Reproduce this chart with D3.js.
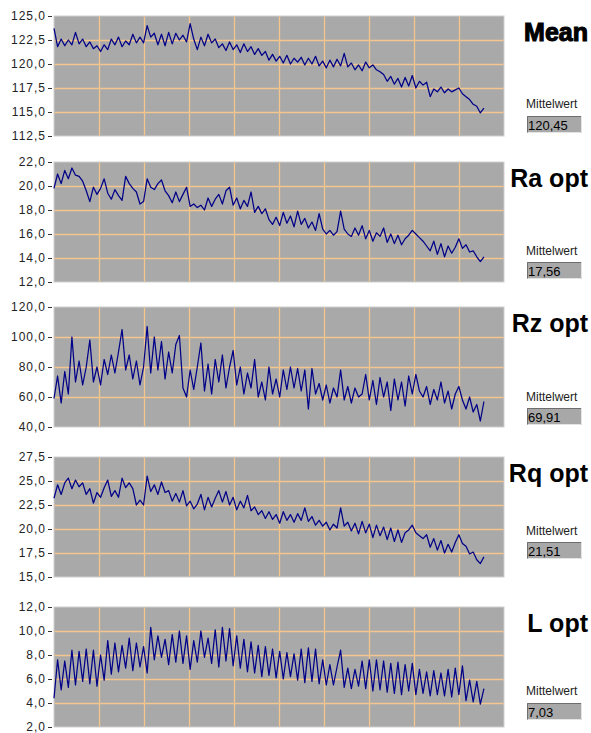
<!DOCTYPE html>
<html>
<head>
<meta charset="utf-8">
<script src="https://cdn.jsdelivr.net/npm/d3@7/dist/d3.min.js"></script>
<style>
  body { margin: 0; background: #fff; }
  svg { display: block; font-family: "Liberation Sans", Arial, sans-serif; }
</style>
</head>
<body>
<script>
// panel names, mean values and y axes
const titles = ['Mean', 'Ra opt', 'Rz opt', 'Rq opt', 'L opt']
const meanValues = [120.45, 17.56, 69.91, 21.51, 7.03]
const yDomains = [[112.5, 125], [12, 22], [40, 120], [15, 27.5], [2, 12]]
const yTicks = [
  [112.5, 115, 117.5, 120, 122.5, 125],
  [12, 14, 16, 18, 20, 22],
  [40, 60, 80, 100, 120],
  [15, 17.5, 20, 22.5, 25, 27.5],
  [2, 4, 6, 8, 10, 12]
]

const meanData = [123.7, 121.8, 122.6, 121.9, 122.5, 122.0, 123.3, 122.1, 122.6, 121.8,
  122.3, 121.6, 121.9, 121.3, 122.0, 121.5, 122.6, 122.0, 122.8, 121.8,
  122.4, 122.0, 123.1, 122.2, 122.8, 122.2, 124.0, 122.8, 123.2, 122.0,
  123.1, 121.9, 123.3, 122.1, 123.2, 122.5, 123.0, 122.3, 124.2, 122.6,
  121.5, 122.8, 121.9, 123.1, 122.2, 122.6, 121.7, 122.1, 121.4, 122.3,
  121.5, 122.0, 121.2, 122.1, 121.3, 121.8, 121.0, 121.6, 120.9, 121.3,
  120.4, 121.0, 120.3, 120.8, 120.1, 120.9, 120.0, 120.6, 120.2, 120.7,
  119.9, 120.6, 120.0, 120.8, 119.8, 120.3, 119.6, 120.4, 119.7, 120.5,
  119.8, 121.1, 119.7, 120.1, 119.4, 119.9, 119.3, 120.2, 119.6, 119.9,
  119.4, 119.2, 118.9, 118.2, 118.7, 117.9, 118.5, 117.6, 118.6, 117.7,
  118.8, 117.5, 118.2, 117.8, 118.1, 116.6, 117.4, 117.1, 117.6, 117.0,
  117.4, 117.1, 117.3, 117.5, 116.9, 116.6, 116.3, 115.8, 115.6, 114.9, 115.4]

const raData = [19.8, 21.0, 20.2, 21.3, 20.6, 21.5, 20.9, 20.8, 20.4, 19.6,
  18.7, 19.9, 19.3, 19.8, 20.6, 19.4, 18.9, 19.7, 19.2, 18.8,
  20.8, 20.2, 19.8, 19.5, 18.5, 18.7, 20.6, 19.9, 19.7, 20.2,
  20.5, 19.6, 19.2, 18.6, 19.5, 18.7, 19.3, 19.9, 18.3, 18.5,
  18.2, 18.4, 18.0, 19.0, 18.3, 18.9, 19.3, 18.5, 19.6, 19.9,
  18.4, 19.0, 18.1, 18.8, 18.3, 19.5, 17.8, 18.3, 17.7, 18.1,
  17.2, 16.8, 17.4, 16.7, 17.8, 16.9, 17.5, 16.6, 17.9, 16.8,
  17.3, 16.5, 17.0, 16.3, 17.7, 16.4, 16.0, 16.3, 15.9, 16.2,
  17.9, 16.4, 16.0, 15.8, 16.5, 15.9, 16.7, 15.6, 16.3, 15.4,
  16.1, 15.8, 16.5, 15.3, 16.0, 15.2, 15.9, 15.1, 15.6, 15.9,
  16.3, 16.0, 15.7, 15.4, 15.0, 14.6, 15.4, 14.3, 15.2, 14.1,
  15.0, 14.4, 14.9, 15.6, 14.8, 15.1, 14.5, 14.6, 14.1, 13.7, 14.1]

const rzData = [59, 74, 56, 77, 62, 100, 70, 84, 68, 80,
  98, 70, 80, 68, 85, 75, 88, 76, 90, 105,
  78, 88, 72, 84, 68, 80, 107, 76, 100, 78,
  97, 72, 90, 76, 95, 101, 66, 60, 78, 65,
  80, 96, 64, 82, 62, 85, 70, 88, 66, 80,
  91, 68, 80, 62, 76, 66, 85, 60, 70, 58,
  80, 62, 72, 60, 78, 65, 80, 66, 79, 64,
  78, 52, 79, 62, 69, 58, 68, 56, 66, 60,
  78, 58, 67, 56, 66, 60, 62, 75, 58, 71,
  55, 73, 60, 70, 51, 72, 58, 70, 54, 74,
  62, 75, 64, 60, 67, 55, 65, 58, 70, 56,
  64, 52, 62, 67, 58, 52, 60, 50, 55, 44, 57]

const rqData = [23.2, 24.6, 23.6, 24.8, 25.3, 24.2, 25.1, 24.4, 24.8, 23.6,
  24.2, 22.7, 23.8, 23.3, 24.3, 25.1, 23.4, 24.0, 23.3, 25.3,
  24.3, 24.8, 24.2, 22.5, 23.0, 22.5, 25.5, 23.9, 24.6, 23.6,
  24.9, 23.8, 24.0, 22.9, 23.7, 22.8, 24.0, 22.4, 22.9, 22.1,
  22.6, 23.6, 22.0, 23.3, 22.3, 23.2, 24.0, 22.8, 23.9, 22.5,
  23.3, 22.0, 22.9, 22.2, 23.5, 21.9, 22.3, 21.5, 21.9, 21.1,
  21.8, 21.0, 21.5, 20.6, 21.8, 20.9, 21.5, 20.7, 21.6, 20.9,
  22.2, 20.8, 21.3, 20.4, 20.9, 20.3, 20.7, 19.9, 20.5, 20.1,
  22.2, 20.3, 20.7, 19.8, 20.6, 19.5, 20.8, 19.6, 20.5, 19.1,
  20.4, 19.3, 20.2, 18.9, 20.1, 18.7, 19.9, 18.6, 19.6, 19.9,
  20.4, 19.6, 19.3, 19.0, 19.4, 18.1, 19.0, 17.8, 18.8, 17.5,
  18.4, 17.6, 18.6, 19.4, 18.5, 18.2, 17.4, 17.6, 16.8, 16.4, 17.1]

const lData = [4.4, 7.6, 5.1, 7.5, 5.3, 8.4, 5.5, 8.3, 5.8, 8.5,
  5.6, 8.4, 5.4, 8.0, 5.9, 9.2, 6.4, 9.0, 6.6, 8.8,
  6.9, 9.4, 6.7, 9.0, 7.0, 8.7, 6.5, 10.3, 7.6, 9.6,
  7.8, 9.3, 7.2, 9.7, 7.4, 10.0, 7.3, 9.6, 6.8, 9.2,
  7.4, 10.0, 7.8, 9.4, 7.3, 10.1, 7.0, 10.3, 7.5, 10.2,
  7.1, 9.6, 6.9, 9.3, 6.6, 9.1, 6.5, 8.8, 6.2, 8.7,
  6.3, 8.5, 6.1, 8.3, 6.0, 8.2, 6.2, 8.1, 5.9, 8.5,
  5.7, 8.6, 5.8, 8.5, 5.6, 7.6, 5.5, 7.2, 5.5, 7.0,
  8.4, 5.3, 6.9, 5.2, 6.8, 5.4, 7.5, 5.2, 7.6, 5.0,
  7.6, 5.1, 7.5, 4.9, 7.3, 4.8, 7.4, 4.7, 7.2, 5.0,
  7.3, 4.7, 6.8, 4.8, 6.6, 4.6, 6.7, 4.7, 6.5, 4.6,
  6.8, 4.5, 6.9, 4.7, 7.1, 4.2, 5.9, 4.1, 5.8, 3.9, 5.2]

const series = [meanData, raData, rzData, rqData, lData]

// layout
let width = 591
let height = 733
let plotLeft = 54
let plotRight = 504
let plotHeight = 120
let panelTops = [16, 162, 307, 457, 607]
let labelOffsets = [92, 93, 94, 78, 88]
let boxOffsets = [100, 100, 101, 85, 96]
let titleStroke = [1.1, 0, 0, 0, 0]
let xMax = 125.6

let fmt = v => d3.format('.1f')(v).replace('.', ',')
let fmt2 = v => d3.format('.2f')(v).replace('.', ',')

let svg = d3.select('body')
  .append('svg')
  .attr('width', width)
  .attr('height', height)

let x = d3.scaleLinear()
  .domain([0, xMax])
  .range([plotLeft, plotRight])

let xGrid = d3.range(1, 10).map(k => xMax * k / 10)

series.forEach((data, p) => {
  let top = panelTops[p]
  let y = d3.scaleLinear()
    .domain(yDomains[p])
    .range([top + plotHeight, top])

  let g = svg.append('g').attr('class', 'panel')

  //plot background
  g.append('rect')
    .attr('x', plotLeft)
    .attr('y', top)
    .attr('width', plotRight - plotLeft)
    .attr('height', plotHeight)
    .attr('fill', '#a9a9a9')
    .attr('stroke', '#cfcfcf')
    .attr('stroke-width', 1)

  //grid
  g.selectAll('.hgrid')
    .data(yTicks[p].slice(1, -1))
    .enter()
    .append('line')
    .attr('x1', plotLeft + 0.5)
    .attr('x2', plotRight - 0.5)
    .attr('y1', d => Math.round(y(d)) + 0.5)
    .attr('y2', d => Math.round(y(d)) + 0.5)
    .attr('stroke', '#f4c58c')
    .attr('stroke-width', 1.3)

  g.selectAll('.vgrid')
    .data(xGrid)
    .enter()
    .append('line')
    .attr('x1', d => Math.round(x(d)) + 0.5)
    .attr('x2', d => Math.round(x(d)) + 0.5)
    .attr('y1', top + 0.5)
    .attr('y2', top + plotHeight - 0.5)
    .attr('stroke', '#f4c58c')
    .attr('stroke-width', 1.3)

  //y axis labels with dash ticks
  let axis = d3.axisLeft(y)
    .tickValues(yTicks[p])
    .tickFormat(fmt)
    .tickSize(4)
    .tickPadding(2)

  g.append('g')
    .attr('transform', 'translate(52,0)')
    .call(axis)
    .call(a => a.select('.domain').remove())
    .call(a => a.selectAll('line').attr('stroke', '#333'))
    .call(a => a.selectAll('text')
      .attr('fill', '#222')
      .style('font-size', '12px')
      .style('letter-spacing', '1px')
      .style('font-family', '"Liberation Sans", Arial, sans-serif'))

  //data line
  let line = d3.line()
    .x((d, i) => x(i))
    .y(d => y(d))

  g.append('path')
    .datum(data)
    .attr('d', line)
    .attr('fill', 'none')
    .attr('stroke', '#000088')
    .attr('stroke-width', 1.25)
    .attr('stroke-linejoin', 'round')

  //title
  g.append('text')
    .attr('x', 588)
    .attr('y', top + 25)
    .attr('text-anchor', 'end')
    .attr('font-size', 25)
    .attr('font-weight', 'bold')
    .attr('fill', '#000')
    .attr('stroke', '#000')
    .attr('stroke-width', titleStroke[p])
    .text(titles[p])

  //mittelwert
  g.append('text')
    .attr('x', 526)
    .attr('y', top + labelOffsets[p])
    .attr('font-size', 12)
    .attr('fill', '#222')
    .text('Mittelwert')

  let by = top + boxOffsets[p]
  g.append('rect')
    .attr('x', 527)
    .attr('y', by)
    .attr('width', 55)
    .attr('height', 17)
    .attr('fill', '#a8a8a8')
  g.append('path')
    .attr('d', `M527.5,${by + 17}V${by + 0.5}H582`)
    .attr('fill', 'none')
    .attr('stroke', '#6e6e6e')
  g.append('path')
    .attr('d', `M527.5,${by + 16.5}H581.5V${by}`)
    .attr('fill', 'none')
    .attr('stroke', '#e4e4e4')

  g.append('text')
    .attr('x', 528)
    .attr('y', by + 14)
    .attr('font-size', 13)
    .attr('fill', '#000')
    .text(fmt2(meanValues[p]))
})
</script>
</body>
</html>
